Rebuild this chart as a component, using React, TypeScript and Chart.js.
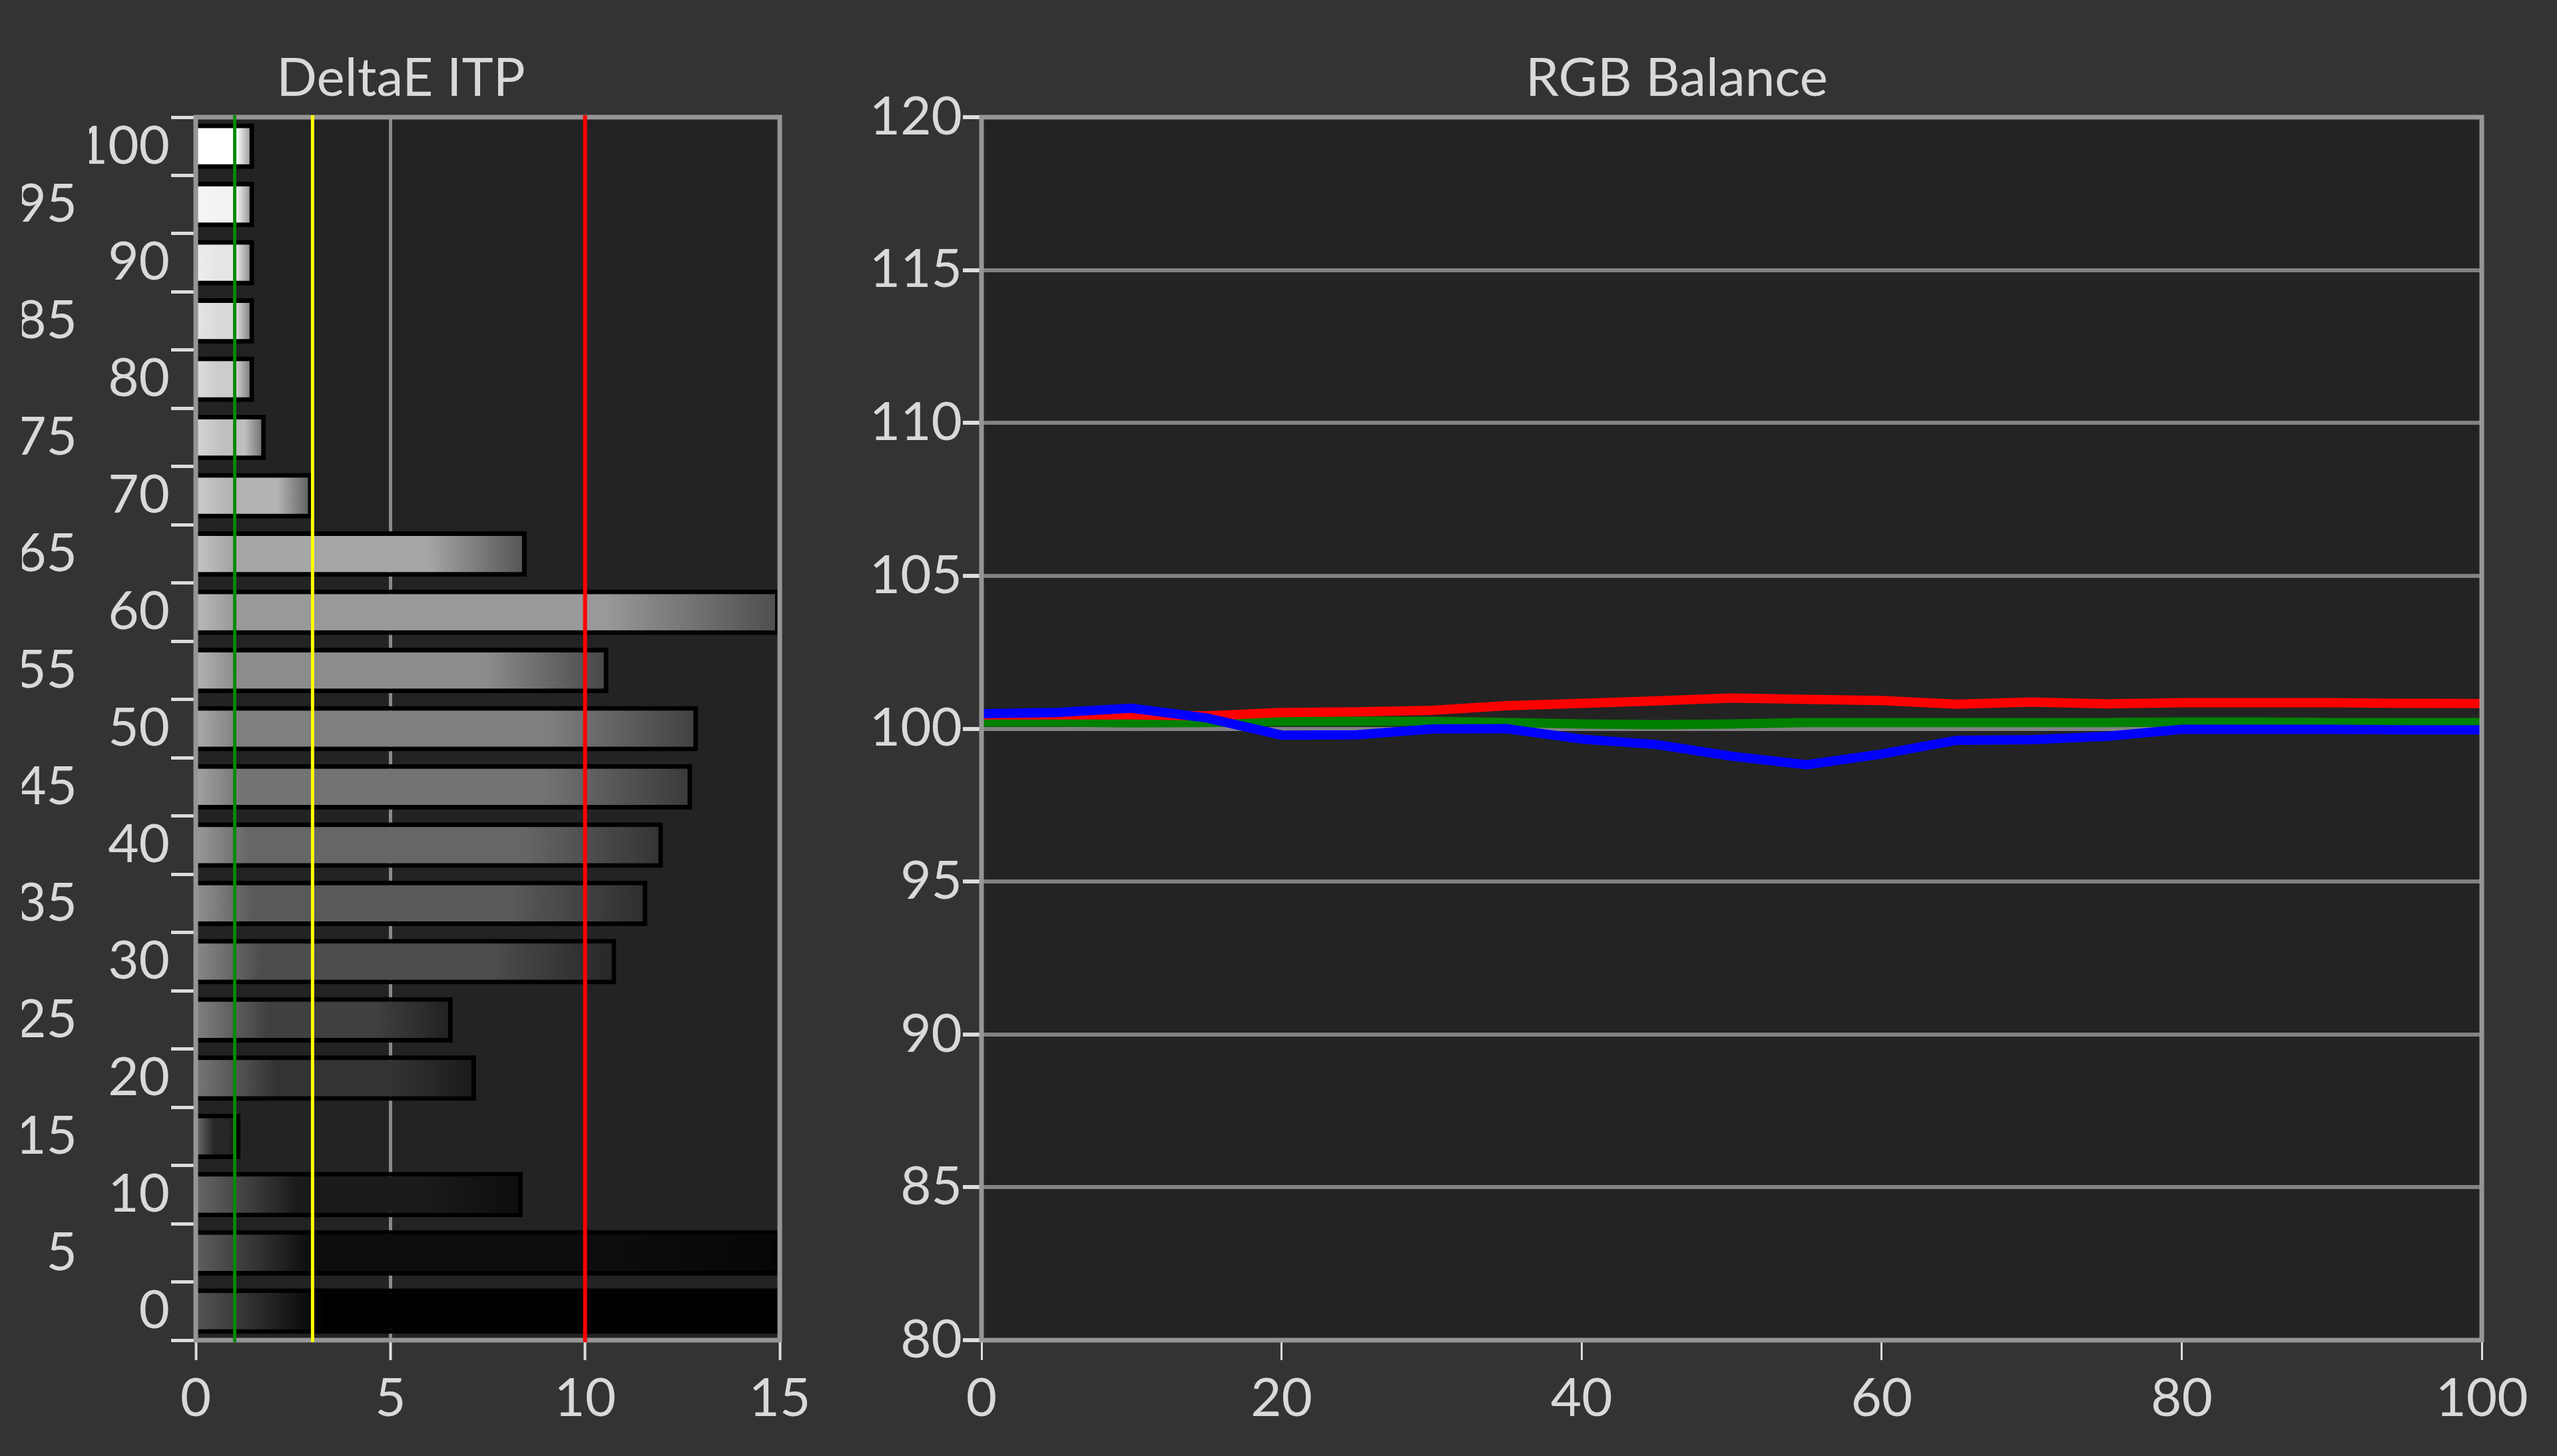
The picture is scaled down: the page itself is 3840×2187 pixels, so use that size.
import React, { useEffect, useRef } from 'react';
import { Chart, registerables } from 'chart.js';

Chart.register(...registerables);

// ---------- DATA ----------
const levelLabels = ['0', '5', '10', '15', '20', '25', '30', '35', '40', '45', '50', '55', '60', '65', '70', '75', '80', '85', '90', '95', '100'];
const deltaEValues = [15, 15, 8.4, 1.15, 7.2, 6.6, 10.8, 11.6, 12.0, 12.75, 12.9, 10.6, 15, 8.5, 3.0, 1.8, 1.5, 1.5, 1.5, 1.5, 1.5];
const thresholdValues = [1, 3, 10];
const thresholdColors = ['#008a00', '#ffff00', '#ff0000'];
const thresholdWidths = [5, 5, 6];

const rgbX = [0, 5, 10, 15, 20, 25, 30, 35, 40, 45, 50, 55, 60, 65, 70, 75, 80, 85, 90, 95, 100];
const redValues = [100.45, 100.45, 100.45, 100.42, 100.53, 100.55, 100.6, 100.75, 100.83, 100.91, 101.0, 100.96, 100.92, 100.8, 100.87, 100.81, 100.85, 100.85, 100.85, 100.83, 100.82];
const greenValues = [100.22, 100.22, 100.19, 100.2, 100.24, 100.24, 100.24, 100.2, 100.15, 100.13, 100.15, 100.2, 100.2, 100.2, 100.2, 100.2, 100.22, 100.22, 100.2, 100.2, 100.2];
const blueValues = [100.49, 100.53, 100.67, 100.35, 99.79, 99.8, 99.99, 100.0, 99.66, 99.48, 99.1, 98.82, 99.17, 99.62, 99.64, 99.75, 99.98, 99.98, 99.98, 99.96, 99.96];

const deltaTicks = { min: 0, max: 15, step: 5 };
const rgbXTicks = { min: 0, max: 100, step: 20 };
const rgbYTicks = { min: 80, max: 120, step: 5 };

// ---------- STYLE ----------
const FONT = 'Lato';
const TEXT = '#d9d9d9';
const PAGE_BG = '#333333';
const PLOT_BG = '#232323';
const FRAME = '#959595';

const plotBg = {
  id: 'plotBg',
  beforeDraw(chart: any) {
    const { ctx, chartArea: a } = chart;
    if (!a) return;
    ctx.save();
    ctx.fillStyle = PLOT_BG;
    ctx.fillRect(a.left, a.top, a.right - a.left, a.bottom - a.top);
    ctx.restore();
  },
};

const drawFrame = (chart: any) => {
  const { ctx, chartArea: a } = chart;
  ctx.save();
  ctx.strokeStyle = FRAME;
  ctx.lineWidth = 7;
  ctx.strokeRect(a.left, a.top, a.right - a.left, a.bottom - a.top);
  ctx.restore();
};

const frameOnly = {
  id: 'frameOnly',
  afterDatasetsDraw(chart: any) {
    drawFrame(chart);
  },
};

const frameAndThresholds = {
  id: 'frameAndThresholds',
  afterDatasetsDraw(chart: any) {
    drawFrame(chart);
    const { ctx, chartArea: a } = chart;
    const xs = chart.scales.x;
    ctx.save();
    thresholdValues.forEach((v, i) => {
      const x = xs.getPixelForValue(v);
      ctx.strokeStyle = thresholdColors[i];
      ctx.lineWidth = thresholdWidths[i];
      ctx.beginPath();
      ctx.moveTo(x, a.top - 3);
      ctx.lineTo(x, a.bottom + 3);
      ctx.stroke();
    });
    ctx.restore();
  },
};

const grey = (v: number) => {
  const c = Math.max(0, Math.min(255, Math.round(v)));
  return `rgb(${c},${c},${c})`;
};

const barFill = (ctx: any) => {
  const chart = ctx.chart;
  const i = ctx.dataIndex;
  const p = Number(levelLabels[i] ?? 0);
  const g = p * 2.55;
  const a = chart.chartArea;
  const xs = chart.scales && chart.scales.x;
  if (!a || !xs) return grey(g);
  const v = Number(ctx.raw ?? 0);
  const x0 = xs.getPixelForValue(0);
  const x1 = xs.getPixelForValue(v);
  if (!(x1 > x0)) return grey(g);
  const grad = chart.ctx.createLinearGradient(x0, 0, x1, 0);
  const left = g + (255 - g) / 3;
  const dark = 1 - p / 100;
  const s1 = Math.min(0.4, (0.8 + 2.5 * dark * dark * dark) / Math.max(v, 0.01));
  const s2 = Math.max(s1, 0.7);
  grad.addColorStop(0, grey(left));
  grad.addColorStop(s1, grey(g));
  grad.addColorStop(s2, grey(g));
  grad.addColorStop(1, grey(g * 0.5));
  return grad;
};

const titleOpts = (text: string) => ({
  display: true,
  text,
  color: TEXT,
  font: { family: FONT, size: 80, weight: 'normal' as const, lineHeight: 1.2 },
  padding: { top: 70, bottom: 10 },
});

const fitX = (s: any) => {
  s.height = 174;
  s.paddingLeft = 0;
  s.paddingRight = 0;
};

function DeltaChart() {
  const ref = useRef<HTMLCanvasElement | null>(null);
  useEffect(() => {
    if (!ref.current) return;
    const chart = new Chart(ref.current, {
      type: 'bar',
      data: {
        labels: levelLabels,
        datasets: [
          {
            data: deltaEValues,
            backgroundColor: barFill as any,
            borderColor: '#000000',
            borderWidth: 7,
            borderSkipped: 'start',
            barPercentage: 0.78,
            categoryPercentage: 1,
          },
        ],
      },
      options: {
        indexAxis: 'y',
        responsive: false,
        animation: false,
        devicePixelRatio: 1,
        layout: { padding: { left: 33, right: 89, top: 0, bottom: 0 } },
        plugins: {
          legend: { display: false },
          tooltip: { enabled: false },
          title: titleOpts('DeltaE ITP'),
        },
        scales: {
          x: {
            type: 'linear',
            min: deltaTicks.min,
            max: deltaTicks.max,
            afterFit: fitX,
            ticks: {
              stepSize: deltaTicks.step,
              color: TEXT,
              font: { family: FONT, size: 80 },
              padding: 10,
              maxRotation: 0,
            },
            grid: {
              color: '#8a8a8a',
              lineWidth: 5,
              tickColor: '#dddddd',
              tickWidth: 4,
              tickLength: 30,
            },
            border: { display: false },
          },
          y: {
            type: 'category',
            position: 'left',
            reverse: true,
            offset: true,
            weight: 0,
            afterFit: (s: any) => { s.width = 160; },
            ticks: {
              autoSkip: false,
              color: TEXT,
              font: { family: FONT, size: 80 },
              padding: 2,
              callback: (_v: any, i: number) => (i % 2 === 0 ? levelLabels[i] : ''),
            },
            grid: {
              offset: true,
              drawOnChartArea: false,
              color: '#dddddd',
              tickColor: '#dddddd',
              tickWidth: 5,
              tickLength: 37,
            },
            border: { display: false },
          },
          y2: {
            type: 'category',
            position: 'left',
            reverse: true,
            offset: true,
            weight: 1,
            afterFit: (s: any) => { s.width = 101; },
            ticks: {
              autoSkip: false,
              color: TEXT,
              font: { family: FONT, size: 80 },
              padding: 18,
              callback: (_v: any, i: number) => (i % 2 === 1 ? levelLabels[i] : ''),
            },
            grid: { display: false, drawTicks: false },
            border: { display: false },
          },
        },
      } as any,
      plugins: [plotBg, frameAndThresholds],
    });
    return () => chart.destroy();
  }, []);
  return (
    <canvas
      ref={ref}
      width={1260}
      height={2187}
      style={{ position: 'absolute', left: 0, top: 0, width: 1260, height: 2187 }}
    />
  );
}

function RgbChart() {
  const ref = useRef<HTMLCanvasElement | null>(null);
  useEffect(() => {
    if (!ref.current) return;
    const mk = (vals: number[]) => rgbX.map((x, i) => ({ x, y: vals[i] }));
    const lineDs = (label: string, vals: number[], color: string) => ({
      label,
      data: mk(vals),
      borderColor: color,
      backgroundColor: color,
      borderWidth: 14,
      pointRadius: 0,
      tension: 0,
      fill: false,
    });
    const chart = new Chart(ref.current, {
      type: 'line',
      data: {
        datasets: [
          lineDs('Blue', blueValues, '#0000ff'),
          lineDs('Red', redValues, '#ff0000'),
          lineDs('Green', greenValues, '#008000'),
        ],
      },
      options: {
        responsive: false,
        animation: false,
        devicePixelRatio: 1,
        layout: { padding: { left: 89, right: 113, top: 0, bottom: 0 } },
        plugins: {
          legend: { display: false },
          tooltip: { enabled: false },
          title: titleOpts('RGB Balance'),
        },
        scales: {
          x: {
            type: 'linear',
            min: rgbXTicks.min,
            max: rgbXTicks.max,
            afterFit: fitX,
            ticks: {
              stepSize: rgbXTicks.step,
              color: TEXT,
              font: { family: FONT, size: 80 },
              padding: 10,
              maxRotation: 0,
            },
            grid: {
              drawOnChartArea: false,
              color: '#dddddd',
              tickColor: '#dddddd',
              tickWidth: 3,
              tickLength: 30,
            },
            border: { display: false },
          },
          y: {
            type: 'linear',
            min: rgbYTicks.min,
            max: rgbYTicks.max,
            afterFit: (s: any) => { s.width = 165; },
            ticks: {
              stepSize: rgbYTicks.step,
              color: TEXT,
              font: { family: FONT, size: 80 },
              padding: 1,
            },
            grid: {
              color: '#828282',
              lineWidth: 6,
              tickColor: '#dddddd',
              tickWidth: 6,
              tickLength: 28,
            },
            border: { display: false },
          },
        },
      } as any,
      plugins: [plotBg, frameOnly],
    });
    return () => chart.destroy();
  }, []);
  return (
    <canvas
      ref={ref}
      width={2620}
      height={2187}
      style={{ position: 'absolute', left: 1220, top: 0, width: 2620, height: 2187 }}
    />
  );
}

export default function App() {
  return (
    <div
      style={{
        position: 'fixed',
        left: 0,
        top: 0,
        width: 3840,
        height: 2187,
        background: PAGE_BG,
        overflow: 'hidden',
      }}
    >
      <DeltaChart />
      <RgbChart />
    </div>
  );
}
